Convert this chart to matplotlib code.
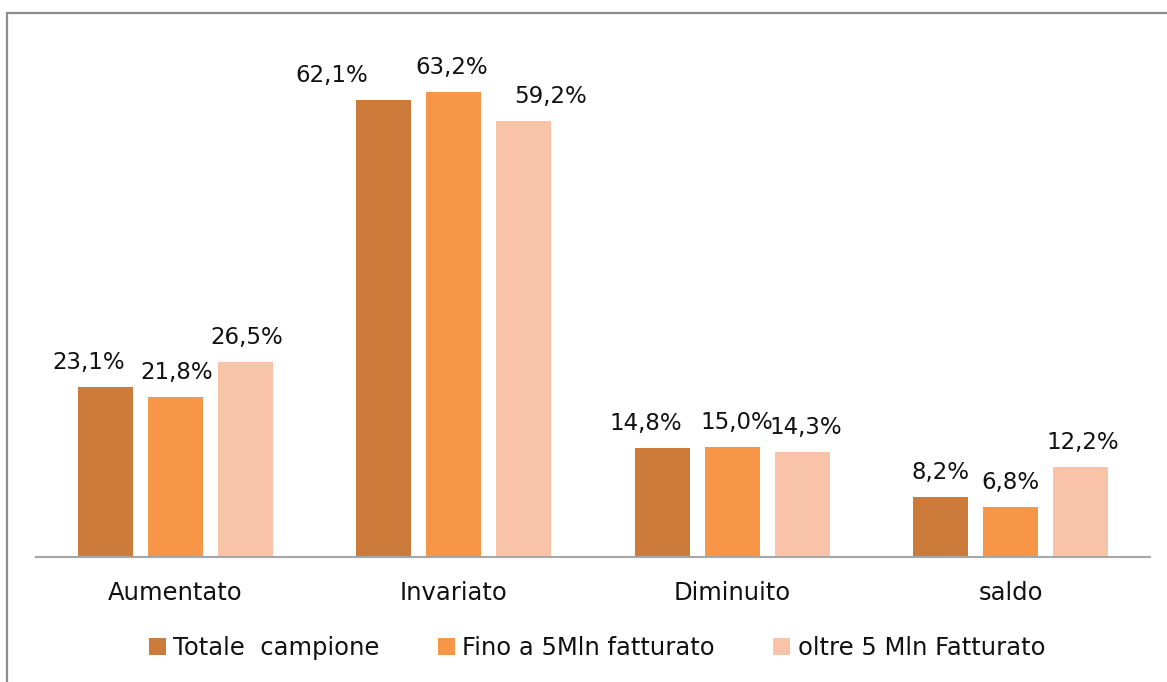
import matplotlib
matplotlib.use("Agg")
import matplotlib.pyplot as plt
from matplotlib.patches import Rectangle, Patch
import numpy as np

plt.rcParams['font.family'] = ['DejaVu Sans']

categories = ["Aumentato", "Invariato", "Diminuito", "saldo"]
series_names = ["Totale  campione", "Fino a 5Mln fatturato", "oltre 5 Mln Fatturato"]
totale = [23.1, 62.1, 14.8, 8.2]
fino_5mln = [21.8, 63.2, 15.0, 6.8]
oltre_5mln = [26.5, 59.2, 14.3, 12.2]
series_values = [totale, fino_5mln, oltre_5mln]

colors = ["#CC7B3A", "#F79646", "#F9C3A8"]
# horizontal nudges (pixels) for the value labels, per series and category
label_dx = [[-17, -52, -17, 0], [1, -2, 5, 0], [2, 27, 3, 2]]

W, H = 1167, 682
fig = plt.figure(figsize=(W / 100, H / 100), dpi=100)
fig.patch.set_facecolor("white")

# outer frame
fig.add_artist(Rectangle((6.5 / W, -0.05), 1.2, (H - 12.5) / H + 0.05,
                         transform=fig.transFigure, fill=False,
                         edgecolor="#8C8C8C", linewidth=1.6))

ax_left, ax_right, ax_bottom, ax_top = 36, 1150, 557, 42
ax = fig.add_axes([ax_left / W, (H - ax_bottom) / H,
                   (ax_right - ax_left) / W, (ax_bottom - ax_top) / H])

x = np.arange(len(categories))
bar_w = 55 / 278.5
step = 70 / 278.5

for i, (vals, col, name) in enumerate(zip(series_values, colors, series_names)):
    pos = x + (i - 1) * step
    ax.bar(pos, vals, width=bar_w, color=col, label=name, zorder=2)
    for j, v in enumerate(vals):
        ax.annotate(f"{v:.1f}%".replace(".", ","), (pos[j], v),
                    xytext=(label_dx[i][j], 18), textcoords="offset pixels",
                    ha="center", va="baseline", fontsize=16.5, color="#111111")

ax.set_xlim(-0.5, len(categories) - 0.5)
ax.set_ylim(0, 70)
ax.set_yticks([])
ax.set_xticks(x)
ax.set_xticklabels(categories, fontsize=17.5, color="#111111")
ax.tick_params(axis="x", length=0, pad=17)
for s in ["top", "right", "left"]:
    ax.spines[s].set_visible(False)
ax.spines["bottom"].set_color("#A6A6A6")
ax.spines["bottom"].set_linewidth(1.5)
ax.patch.set_alpha(0)

handles = [Patch(facecolor=c, edgecolor="none") for c in colors]
fig.legend(handles, series_names, loc="center", bbox_to_anchor=(597 / W, (H - 648) / H),
           ncol=3, frameon=False, fontsize=17.5, handlelength=0.7, handleheight=0.7,
           handletextpad=0.3, columnspacing=2.4, labelcolor="#111111")

fig.savefig("out.png", dpi=100)
